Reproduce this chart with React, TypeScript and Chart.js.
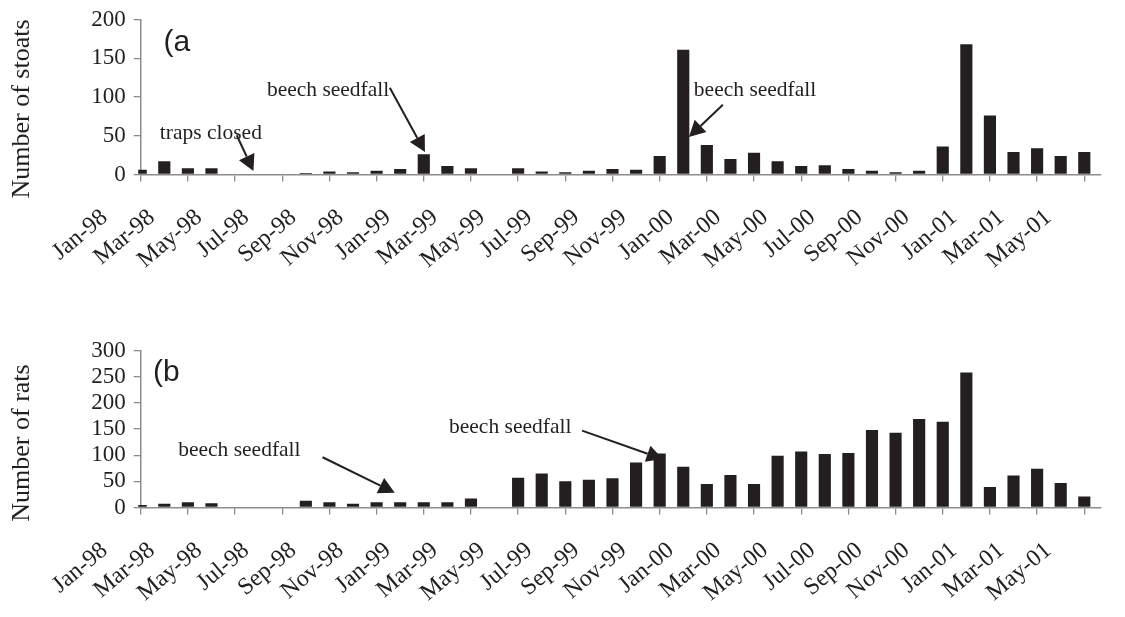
import React, { useEffect, useRef } from 'react';
import { Chart, registerables } from 'chart.js';

Chart.register(...registerables);

// ---- data ----
const months = [
  'Jan-98', 'Feb-98', 'Mar-98', 'Apr-98', 'May-98', 'Jun-98', 'Jul-98', 'Aug-98', 'Sep-98', 'Oct-98', 'Nov-98', 'Dec-98',
  'Jan-99', 'Feb-99', 'Mar-99', 'Apr-99', 'May-99', 'Jun-99', 'Jul-99', 'Aug-99', 'Sep-99', 'Oct-99', 'Nov-99', 'Dec-99',
  'Jan-00', 'Feb-00', 'Mar-00', 'Apr-00', 'May-00', 'Jun-00', 'Jul-00', 'Aug-00', 'Sep-00', 'Oct-00', 'Nov-00', 'Dec-00',
  'Jan-01', 'Feb-01', 'Mar-01', 'Apr-01', 'May-01',
];

const stoats = [
  6, 17, 8, 8, null, null, null, 2, 4, 3, 5, 7,
  26, 11, 8, null, 8, 4, 3, 5, 7, 6, 24, 161,
  38, 20, 28, 17, 11, 12, 7, 5, 3, 5, 36, 168,
  76, 29, 34, 24, 29,
];

const rats = [
  5, 7, 10, 8, null, null, null, 13, 10, 7, 10, 10,
  10, 10, 17, null, 57, 65, 50, 53, 56, 86, 103, 78,
  45, 62, 45, 99, 107, 102, 104, 148, 143, 169, 164, 258,
  39, 61, 74, 47, 21,
];

const stoatTicks = [0, 50, 100, 150, 200];
const ratTicks = [0, 50, 100, 150, 200, 250, 300];

// annotations in data space (x = month index, y = count)
const stoatNotes = [
  { text: '(a', x: 0.97, y: 170, sans: true },
  { text: 'traps closed', x: 0.81, y: 53 },
  { text: 'beech seedfall', x: 5.35, y: 108 },
  { text: 'beech seedfall', x: 23.45, y: 108 },
];
const stoatArrows = [
  { x0: 4.07, y0: 50.6, x1: 4.78, y1: 4.5 },
  { x0: 10.56, y0: 112, x1: 12.05, y1: 29 },
  { x0: 24.68, y0: 90, x1: 23.24, y1: 48.5 },
];
const ratNotes = [
  { text: '(b', x: 0.52, y: 257, sans: true },
  { text: 'beech seedfall', x: 1.59, y: 110 },
  { text: 'beech seedfall', x: 13.07, y: 154 },
];
const ratArrows = [
  { x0: 7.71, y0: 96, x1: 10.77, y1: 28.3 },
  { x0: 18.71, y0: 146.8, x1: 22.13, y1: 92.7 },
];

// ---- style ----
const INK = '#231f20';
const AXIS = '#8c8c8c';
const SERIF = "'Liberation Serif', 'Times New Roman', serif";
const SANS = "'Liberation Sans', Arial, sans-serif";

const notesPlugin = {
  id: 'notes',
  afterDraw(chart: any, _args: any, opts: any) {
    const { ctx, chartArea } = chart;
    const xs = chart.scales.x;
    const ys = chart.scales.y;
    ctx.save();
    ctx.fillStyle = INK;
    ctx.strokeStyle = INK;

    // y-axis title
    ctx.save();
    ctx.translate(opts.titleX, (chartArea.top + chartArea.bottom) / 2 + opts.titleShift);
    ctx.rotate(-Math.PI / 2);
    ctx.font = `26px ${SERIF}`;
    ctx.textAlign = 'center';
    ctx.textBaseline = 'middle';
    ctx.fillText(opts.title, 0, 0);
    ctx.restore();

    for (const n of opts.notes) {
      ctx.font = n.sans ? `30px ${SANS}` : `21.5px ${SERIF}`;
      ctx.textAlign = 'left';
      ctx.textBaseline = 'middle';
      ctx.fillText(n.text, xs.getPixelForValue(n.x), ys.getPixelForValue(n.y));
    }

    for (const a of opts.arrows) {
      const px0 = xs.getPixelForValue(a.x0);
      const py0 = ys.getPixelForValue(a.y0);
      const px1 = xs.getPixelForValue(a.x1);
      const py1 = ys.getPixelForValue(a.y1);
      const ang = Math.atan2(py1 - py0, px1 - px0);
      const head = 16;
      const half = 8.5;
      const bx = px1 - head * Math.cos(ang);
      const by = py1 - head * Math.sin(ang);
      ctx.lineWidth = 2;
      ctx.beginPath();
      ctx.moveTo(px0, py0);
      ctx.lineTo(bx, by);
      ctx.stroke();
      ctx.beginPath();
      ctx.moveTo(px1, py1);
      ctx.lineTo(bx + half * Math.sin(ang), by - half * Math.cos(ang));
      ctx.lineTo(bx - half * Math.sin(ang), by + half * Math.cos(ang));
      ctx.closePath();
      ctx.fill();
    }
    ctx.restore();
  },
};

function makeChart(canvas: HTMLCanvasElement, cfg: any) {
  const points = months
    .map((m, i) => ({ x: i, y: cfg.values[i] }))
    .filter((p) => p.y !== null);
  return new Chart(canvas, {
    type: 'bar',
    data: {
      datasets: [
        {
          data: points,
          backgroundColor: INK,
          borderWidth: 0,
          barPercentage: 0.515,
          categoryPercentage: 1,
          clip: { left: 2.5, top: 60, right: 60, bottom: 0 },
        },
      ],
    },
    options: {
      animation: false,
      responsive: false,
      devicePixelRatio: 1,
      layout: { padding: { top: cfg.padTop, left: 0, right: 12, bottom: 0 } },
      plugins: {
        legend: { display: false },
        tooltip: { enabled: false },
        notes: {
          title: cfg.title,
          titleX: 22,
          titleShift: cfg.titleShift,
          notes: cfg.notes,
          arrows: cfg.arrows,
        },
      },
      scales: {
        x: {
          type: 'linear',
          min: 0,
          max: 40.7,
          offset: false,
          afterBuildTicks: (s: any) => {
            s.ticks = months.map((_, i) => ({ value: i })).filter((t) => t.value % 2 === 0);
          },
          afterFit: (s: any) => {
            s.height = cfg.xAxisH;
          },
          grid: {
            display: true,
            drawOnChartArea: false,
            drawTicks: true,
            tickLength: 7,
            color: AXIS,
            lineWidth: 1.3,
            offset: false,
          },
          border: { display: true, color: AXIS, width: 1.5 },
          ticks: {
            autoSkip: false,
            maxRotation: 40,
            minRotation: 40,
            padding: 22,
            labelOffset: -36,
            color: INK,
            font: { family: SERIF, size: 24 },
            callback: (v: any) => months[v] ?? '',
          },
        },
        y: {
          min: 0,
          max: cfg.yMax,
          afterBuildTicks: (s: any) => {
            s.ticks = cfg.yTicks.map((v: number) => ({ value: v }));
          },
          afterFit: (s: any) => {
            s.width = 140.7;
          },
          grid: {
            display: true,
            drawOnChartArea: false,
            drawTicks: true,
            tickLength: 7,
            color: AXIS,
            lineWidth: 1.3,
          },
          border: { display: true, color: AXIS, width: 1.5 },
          ticks: {
            autoSkip: false,
            padding: 8,
            color: INK,
            font: { family: SERIF, size: 23, lineHeight: 1 },
          },
        },
      },
    },
    plugins: [notesPlugin],
  } as any);
}

export default function App() {
  const refA = useRef<HTMLCanvasElement>(null);
  const refB = useRef<HTMLCanvasElement>(null);

  useEffect(() => {
    const a = makeChart(refA.current!, {
      values: stoats,
      yMax: 200,
      yTicks: stoatTicks,
      padTop: 18.5,
      xAxisH: 310 - 174.5,
      title: 'Number of stoats',
      titleShift: 12,
      notes: stoatNotes,
      arrows: stoatArrows,
    });
    const b = makeChart(refB.current!, {
      values: rats,
      yMax: 300,
      yTicks: ratTicks,
      padTop: 40.5,
      xAxisH: 307 - 197.5,
      title: 'Number of rats',
      titleShift: 14,
      notes: ratNotes,
      arrows: ratArrows,
    });
    return () => {
      a.destroy();
      b.destroy();
    };
  }, []);

  return (
    <div style={{ position: 'absolute', left: 0, top: 0, width: 1125, height: 617, background: '#ffffff' }}>
      <canvas
        ref={refA}
        width={1125}
        height={310}
        style={{ position: 'absolute', left: 0, top: 0, width: 1125, height: 310 }}
      />
      <canvas
        ref={refB}
        width={1125}
        height={307}
        style={{ position: 'absolute', left: 0, top: 310, width: 1125, height: 307 }}
      />
    </div>
  );
}
